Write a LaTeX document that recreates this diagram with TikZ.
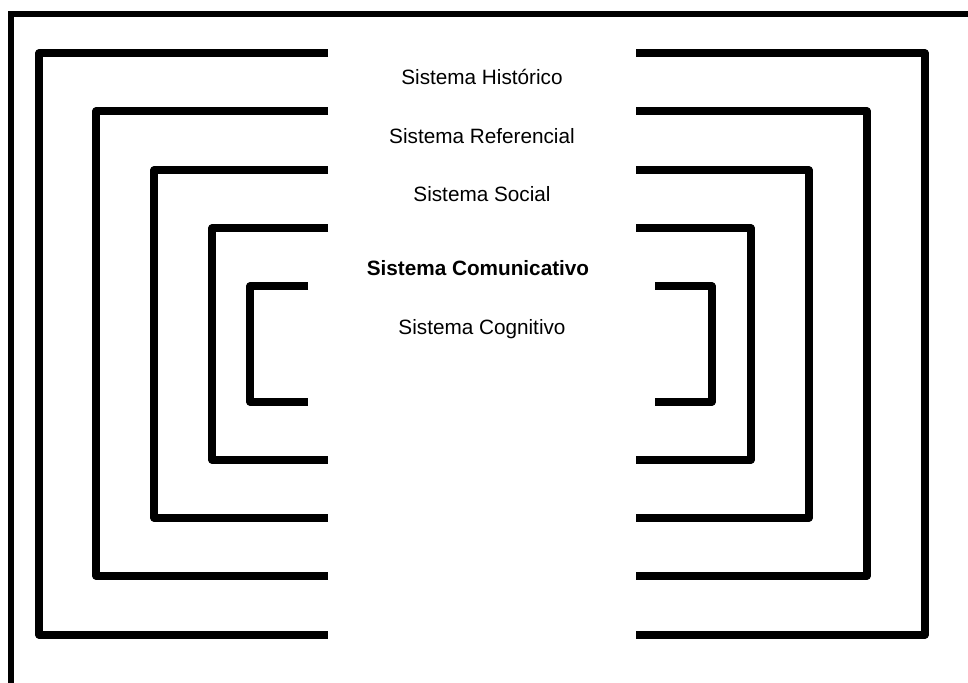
\documentclass[tikz,border=0pt]{standalone}
\usepackage{fontspec}
\setmainfont{Liberation Sans}

\begin{document}
\begin{tikzpicture}[x=0.02cm, y=-0.02cm] % one unit is one pixel of the scan
	\tikzset{wall/.style={line width=4pt, line join=round},
		frame/.style={line width=3pt},
		sysname/.style={font=\fontsize{11.8}{13}\selectfont}}
	
	% Fix the page size
	\useasboundingbox (0,0) rectangle (968,683);
	
	% Outer frame, only top and left edge are visible
	\draw [frame] (968,14) -- (11,14) -- (11,683);
	
	% Draw the first pair of brackets
	\draw [wall] (328,53) -- (39,53) -- (39,635) -- (328,635);
	\draw [wall] (636,53) -- (925,53) -- (925,635) -- (636,635);
	
	% Draw the second pair of brackets
	\draw [wall] (328,111) -- (96,111) -- (96,576) -- (328,576);
	\draw [wall] (636,111) -- (867,111) -- (867,576) -- (636,576);
	
	% Draw the third pair of brackets
	\draw [wall] (328,170) -- (154,170) -- (154,518) -- (328,518);
	\draw [wall] (636,170) -- (809,170) -- (809,518) -- (636,518);
	
	% Draw the fourth pair of brackets
	\draw [wall] (328,228) -- (212,228) -- (212,460) -- (328,460);
	\draw [wall] (636,228) -- (751,228) -- (751,460) -- (636,460);
	
	% Draw the fifth pair of brackets
	\draw [wall] (308,286) -- (250,286) -- (250,402) -- (308,402);
	\draw [wall] (655,286) -- (712,286) -- (712,402) -- (655,402);
	
	% Names of the systems
	\node[sysname] (historico) at (482,77) {Sistema Histórico};
	\node[sysname] (referencial) at (482,136) {Sistema Referencial};
	\node[sysname] (social) at (482,194) {Sistema Social};
	\node[sysname, font=\fontsize{11.8}{13}\selectfont\bfseries] (comunicativo) at (478,268) {Sistema Comunicativo};
	\node[sysname] (cognitivo) at (482,329) {Sistema Cognitivo};
	
\end{tikzpicture}
\end{document}
